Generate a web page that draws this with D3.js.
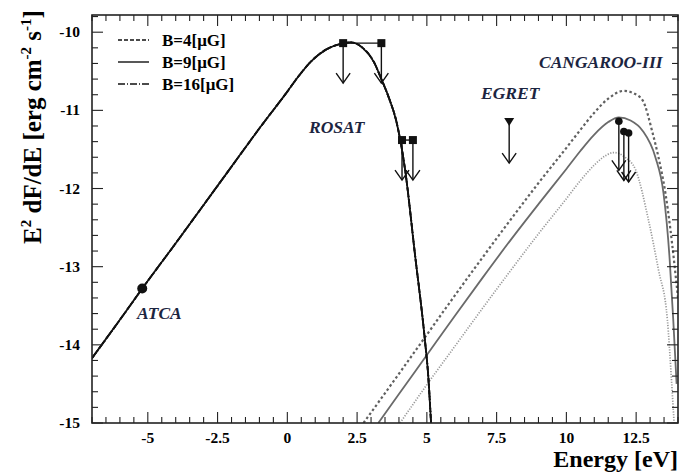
<!DOCTYPE html>
<html lang="en">
<head>
  <meta charset="UTF-8">
  <script src="https://d3js.org/d3.v7.min.js"></script>
  <title>SNR spectrum</title>
  <style>
    body { margin: 0; background: white; }
    svg text { font-family: "Liberation Serif", "Times New Roman", serif; font-weight: bold; }
    .lbl { font-style: italic; fill: #1c2541; font-size: 17.5px; }
  </style>
</head>
<body>
<div id="chart"></div>
<script>
// synchrotron curve (same for all three B)
const syncE = [-7, -6, -5.2, -4, -3, -2, -1, 0, 0.43, 0.89, 1.4, 1.9, 2.27, 2.7, 3.1, 3.37, 3.65, 3.9, 4.22, 4.57, 4.93, 5.05, 5.15];
const syncF = [-14.17, -13.68, -13.28, -12.7, -12.21, -11.72, -11.23, -10.76, -10.55, -10.36, -10.22, -10.15, -10.13, -10.2, -10.38, -10.6, -10.85, -11.13, -11.76, -12.83, -13.94, -14.4, -15.0];
// inverse Compton curves
const ic4E = [2.73, 4, 5, 6, 7, 8, 9, 10, 10.5, 11, 11.5, 12.06, 12.4, 12.73, 13.09, 13.3, 13.55, 13.72, 13.85, 14.0];
const ic4F = [-15, -14.37, -13.87, -13.37, -12.88, -12.4, -11.93, -11.48, -11.25, -11.03, -10.85, -10.75, -10.78, -10.87, -11.29, -11.6, -12.06, -12.5, -12.9, -13.4];
const ic9E = [3.26, 4, 5, 6, 7, 8, 9, 10, 10.5, 11, 11.5, 11.88, 12.3, 12.73, 13.19, 13.48, 13.7, 13.83, 13.95];
const ic9F = [-15, -14.63, -14.13, -13.63, -13.14, -12.66, -12.2, -11.75, -11.52, -11.31, -11.15, -11.09, -11.13, -11.26, -11.6, -12.06, -12.9, -13.68, -14.5];
const ic16E = [4.04, 5, 6, 7, 8, 9, 10, 10.5, 11, 11.4, 11.7, 12.1, 12.48, 12.94, 13.3, 13.62, 13.76, 13.86];
const ic16F = [-15, -14.51, -14.02, -13.53, -13.05, -12.58, -12.13, -11.9, -11.7, -11.58, -11.54, -11.6, -11.76, -12.4, -13.04, -13.68, -14.41, -15.0];
// measurements
const atcaE = [-5.2], atcaF = [-13.28];
const rosatE = [2.0, 3.37, 4.11, 4.5], rosatF = [-10.14, -10.14, -11.38, -11.38];
const egretE = [7.95], egretF = [-11.15];
const cangE = [11.88, 12.06, 12.23], cangF = [-11.14, -11.27, -11.29];
// axes
const xTicks = [-5, -2.5, 0, 2.5, 5, 7.5, 10, 12.5];
const yTicks = [-15, -14, -13, -12, -11, -10];
const legendLabels = ["B=4[\u03bcG]", "B=9[\u03bcG]", "B=16[\u03bcG]"];

const margin = { top: 15, right: 2, bottom: 50, left: 92 };
const width = 680 - margin.left - margin.right;
const height = 473 - margin.top - margin.bottom;

const svgRoot = d3.select("#chart").append("svg")
  .attr("width", 680).attr("height", 473);
const svg = svgRoot.append("g")
  .attr("transform", `translate(${margin.left},${margin.top})`);

const x = d3.scaleLinear().domain([-7, 14]).range([0, width]);
const y = d3.scaleLinear().domain([-15, -9.78]).range([height, 0]);

svg.append("clipPath").attr("id", "clip")
  .append("rect").attr("width", width).attr("height", height);

const zip = (a, b) => a.map((v, i) => [v, b[i]]);
const line = d3.line().x(d => x(d[0])).y(d => y(d[1])).curve(d3.curveMonotoneX);

const plot = svg.append("g").attr("clip-path", "url(#clip)");

// IC curves
plot.append("path").datum(zip(ic16E, ic16F)).attr("d", line)
  .attr("fill", "none").attr("stroke", "#999").attr("stroke-width", 1.7).attr("stroke-dasharray", "1.2,1.5");
plot.append("path").datum(zip(ic9E, ic9F)).attr("d", line)
  .attr("fill", "none").attr("stroke", "#6a6a6a").attr("stroke-width", 1.8);
plot.append("path").datum(zip(ic4E, ic4F)).attr("d", line)
  .attr("fill", "none").attr("stroke", "#606060").attr("stroke-width", 2.2).attr("stroke-dasharray", "2.5,2.5");

// synchrotron (three B overlap)
[null, "4,2", "7,2,1,2"].forEach(dash => {
  plot.append("path").datum(zip(syncE, syncF)).attr("d", line)
    .attr("fill", "none").attr("stroke", "#111").attr("stroke-width", 1.8)
    .attr("stroke-dasharray", dash);
});

// upper limit arrows
function arrow(px, py, len) {
  const g = svg.append("g").attr("stroke", "#111").attr("stroke-width", 1.4).attr("fill", "none");
  g.append("line").attr("x1", px).attr("x2", px).attr("y1", py).attr("y2", py + len);
  g.append("polyline").attr("points", `${px - 7},${py + len - 10} ${px},${py + len} ${px + 7},${py + len - 10}`);
}

// ROSAT
const rosat = zip(rosatE, rosatF);
[[0, 1], [2, 3]].forEach(([a, b]) => {
  svg.append("line")
    .attr("x1", x(rosat[a][0])).attr("x2", x(rosat[b][0]))
    .attr("y1", y(rosat[a][1])).attr("y2", y(rosat[b][1]))
    .attr("stroke", "#111").attr("stroke-width", 1.4);
});
rosat.forEach(d => arrow(x(d[0]), y(d[1]), 40));
svg.selectAll(".rosat").data(rosat).enter().append("rect")
  .attr("x", d => x(d[0]) - 4).attr("y", d => y(d[1]) - 4)
  .attr("width", 8).attr("height", 8).attr("fill", "#111");

// EGRET
zip(egretE, egretF).forEach(d => {
  arrow(x(d[0]), y(d[1]), 41);
  svg.append("path")
    .attr("d", `M${x(d[0]) - 5},${y(d[1]) - 4} L${x(d[0]) + 5},${y(d[1]) - 4} L${x(d[0])},${y(d[1]) + 4} Z`)
    .attr("fill", "#111");
});

// CANGAROO-III
const cang = zip(cangE, cangF);
cang.forEach(d => arrow(x(d[0]), y(d[1]), 49));
svg.selectAll(".cang").data(cang).enter().append("circle")
  .attr("cx", d => x(d[0])).attr("cy", d => y(d[1])).attr("r", 3.8).attr("fill", "#111");

// ATCA
svg.selectAll(".atca").data(zip(atcaE, atcaF)).enter().append("circle")
  .attr("cx", d => x(d[0])).attr("cy", d => y(d[1])).attr("r", 5).attr("fill", "#111");

// labels
svg.append("text").attr("class", "lbl").attr("x", 45).attr("y", 304).text("ATCA");
svg.append("text").attr("class", "lbl").attr("x", 217).attr("y", 118).text("ROSAT");
svg.append("text").attr("class", "lbl").attr("x", 389).attr("y", 84).text("EGRET");
svg.append("text").attr("class", "lbl").attr("x", 447).attr("y", 53).text("CANGAROO-III");

// axes frame with inner ticks
const xMinor = d3.range(-7, 14.01, 0.5);
const yMinor = d3.range(-15, -9.79, 0.2);
const axisG = svg.append("g").attr("stroke", "#222").attr("stroke-width", 1.1);
xMinor.forEach(v => {
  const major = xTicks.some(t => Math.abs(t - v) < 1e-6);
  const len = major ? 11 : 6;
  axisG.append("line").attr("x1", x(v)).attr("x2", x(v)).attr("y1", height).attr("y2", height - len);
  axisG.append("line").attr("x1", x(v)).attr("x2", x(v)).attr("y1", 0).attr("y2", len);
});
yMinor.forEach(v => {
  const major = yTicks.some(t => Math.abs(t - v) < 1e-6);
  const len = major ? 11 : 6;
  axisG.append("line").attr("y1", y(v)).attr("y2", y(v)).attr("x1", 0).attr("x2", len);
  axisG.append("line").attr("y1", y(v)).attr("y2", y(v)).attr("x1", width).attr("x2", width - len);
});
svg.append("rect").attr("width", width).attr("height", height)
  .attr("fill", "none").attr("stroke", "#222").attr("stroke-width", 1.6);

svg.selectAll(".xt").data(xTicks).enter().append("text")
  .attr("x", d => x(d)).attr("y", height + 20).attr("text-anchor", "middle")
  .attr("font-size", 15.5).text(d => d);
svg.selectAll(".yt").data(yTicks).enter().append("text")
  .attr("x", -12).attr("y", d => y(d) + 5).attr("text-anchor", "end")
  .attr("font-size", 15.5).text(d => d);

// axis titles
svgRoot.append("text").attr("x", 678).attr("y", 467).attr("text-anchor", "end")
  .attr("font-size", 24).text("Energy [eV]");
const yt = svgRoot.append("text").attr("transform", "translate(41,127) rotate(-90)")
  .attr("text-anchor", "middle").attr("font-size", 25);
yt.append("tspan").text("E");
yt.append("tspan").attr("font-size", 15).attr("dy", -10).text("2");
yt.append("tspan").attr("dy", 10).text(" dF/dE [erg cm");
yt.append("tspan").attr("font-size", 15).attr("dy", -10).text("-2");
yt.append("tspan").attr("dy", 10).text(" s");
yt.append("tspan").attr("font-size", 15).attr("dy", -10).text("-1");
yt.append("tspan").attr("dy", 10).text("]");

// legend
const legDash = ["4,2", null, "7,2,1,2"];
legendLabels.forEach((t, i) => {
  const ly = 25 + i * 22;
  svg.append("line").attr("x1", 26).attr("x2", 57).attr("y1", ly).attr("y2", ly)
    .attr("stroke", "#111").attr("stroke-width", 1.4).attr("stroke-dasharray", legDash[i]);
  svg.append("text").attr("x", 70).attr("y", ly + 6).attr("font-size", 17).text(t);
});
</script>
</body>
</html>
